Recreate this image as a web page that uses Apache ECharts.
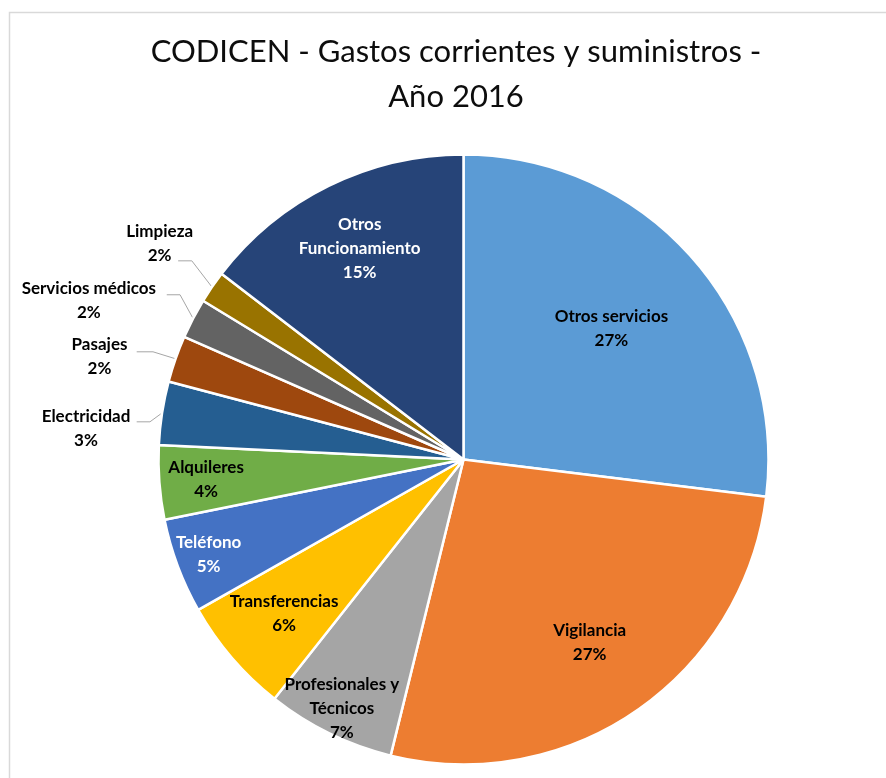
<!DOCTYPE html>
<html>
<head>
<meta charset="utf-8">
<script src="https://cdn.jsdelivr.net/npm/echarts@6/dist/echarts.min.js"></script>
<style>
  html, body { margin: 0; padding: 0; background: #ffffff; }
  #chart { width: 886px; height: 778px; }
</style>
</head>
<body>
<div id="chart"></div>
<script>
// ---- Data ----
const categories = [
  'Otros servicios', 'Vigilancia', 'Profesionales y Técnicos', 'Transferencias',
  'Teléfono', 'Alquileres', 'Electricidad', 'Pasajes', 'Servicios médicos',
  'Limpieza', 'Otros Funcionamiento'
];
const shares = [26.95, 26.89, 6.80, 6.15, 5.04, 3.93, 3.36, 2.47, 2.12, 1.71, 14.58];
const titleText = 'CODICEN - Gastos corrientes y suministros -\nAño 2016';

// ---- Styling / layout config (kept apart from data) ----
const colors = ['#5B9BD5', '#ED7D31', '#A5A5A5', '#FFC000', '#4472C4', '#70AD47',
                '#255E91', '#9E480E', '#636363', '#997300', '#264478'];
const lineBreakAfter = { 'Profesionales y Técnicos': 'Profesionales y', 'Otros Funcionamiento': 'Otros' };
const CX = 463.5, CY = 459.5, R = 305;
// inside labels: radial scale factor relative to default (r/2) position
// outside labels: offsets relative to slice-edge anchor point
const labelCfg = [
  { inside: true, k: 1.27, color: '#000' },
  { inside: true, k: 1.43, color: '#000' },
  { inside: true, k: 1.78, color: '#000' },
  { inside: true, k: 1.52, color: '#000' },
  { inside: true, k: 1.75, color: '#fff' },
  { inside: true, k: 1.66, color: '#000' },
  { inside: false, label: [-76.1, 15.2], elbow: [-12.1, 8.9], end: -25.4, color: '#000' },
  { inside: false, label: [-76.1, -2.2], elbow: [-22.6, -7], end: -38.9, color: '#000' },
  { inside: false, label: [-104.2, -17.7], elbow: [-13, -23.7], end: -26.3, color: '#000' },
  { inside: false, label: [-52.3, -43.2], elbow: [-20.1, -26.2], end: -33.8, color: '#000' },
  { inside: true, k: 1.51, color: '#fff' }
];

const pieData = categories.map((name, i) => ({
  name: name,
  value: shares[i],
  itemStyle: { color: colors[i] },
  label: {
    position: labelCfg[i].inside ? 'inside' : 'outside',
    color: labelCfg[i].color
  },
  labelLine: { show: !labelCfg[i].inside }
}));

const chart = echarts.init(document.getElementById('chart'), null, { renderer: 'canvas' });
chart.setOption({
  backgroundColor: '#ffffff',
  animation: false,
  title: {
    text: titleText,
    left: 451,
    top: 24,
    textAlign: 'center',
    textStyle: {
      fontFamily: 'Lato',
      fontWeight: 'normal',
      fontSize: 31,
      lineHeight: 45,
      color: '#0d0d0d'
    }
  },
  graphic: [{
    type: 'rect',
    silent: true,
    z: -10,
    shape: { x: 9.5, y: 12.5, width: 1000, height: 1000 },
    style: { fill: 'none', stroke: '#d9d9d9', lineWidth: 1.5 }
  }],
  series: [{
    type: 'pie',
    center: [CX, CY],
    radius: R,
    startAngle: 90,
    clockwise: true,
    percentPrecision: 0,
    avoidLabelOverlap: false,
    itemStyle: { borderColor: '#ffffff', borderWidth: 2.5 },
    label: {
      fontFamily: 'Lato',
      fontWeight: 'bold',
      fontSize: 17,
      lineHeight: 24,
      formatter: function (p) {
        const first = lineBreakAfter[p.name];
        const nm = first ? first + '\n' + p.name.slice(first.length).trim() : p.name;
        return nm + '\n' + p.percent + '%';
      }
    },
    labelLine: {
      length: 12,
      length2: 12,
      lineStyle: { color: '#a6a6a6', width: 1 }
    },
    labelLayout: function (p) {
      const cfg = labelCfg[p.dataIndex];
      if (cfg.inside) {
        const lx = p.labelRect.x + p.labelRect.width / 2;
        const ly = p.labelRect.y + p.labelRect.height / 2;
        return {
          x: CX + (lx - CX) * cfg.k,
          y: CY + (ly - CY) * cfg.k,
          align: 'center',
          verticalAlign: 'middle'
        };
      }
      const e = p.labelLinePoints[0];
      return {
        x: e[0] + cfg.label[0],
        y: e[1] + cfg.label[1],
        align: 'center',
        verticalAlign: 'middle',
        labelLinePoints: [
          [e[0], e[1]],
          [e[0] + cfg.elbow[0], e[1] + cfg.elbow[1]],
          [e[0] + cfg.end, e[1] + cfg.elbow[1]]
        ]
      };
    },
    data: pieData
  }]
});
</script>
</body>
</html>
